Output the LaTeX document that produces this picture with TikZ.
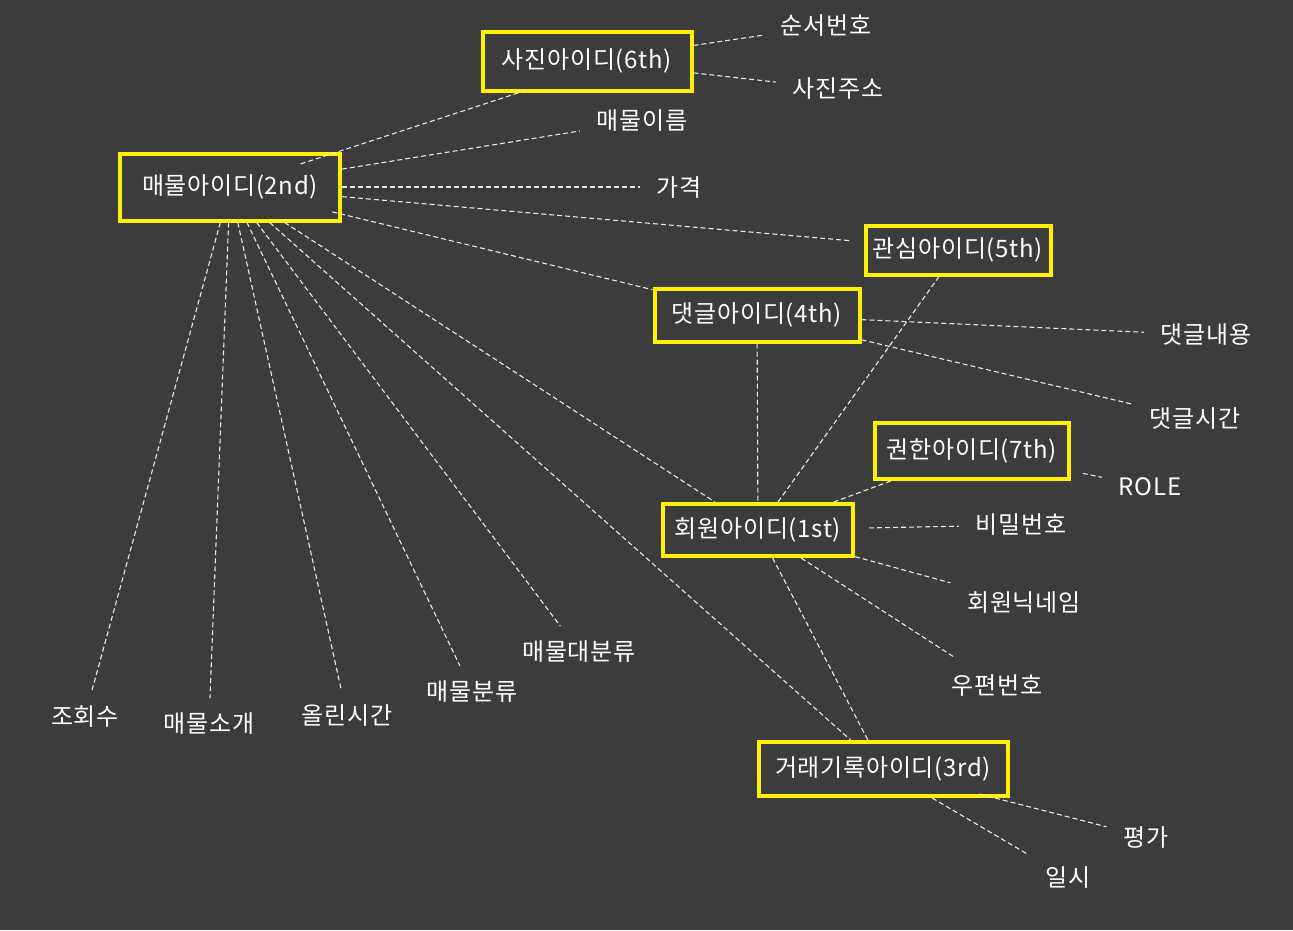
\documentclass[tikz,border=0pt]{standalone}
\usepackage{fontspec}
\setmainfont[LetterSpace=3]{Noto Sans CJK KR}
\definecolor{bgdark}{HTML}{3C3C3C}
\definecolor{boxyellow}{HTML}{FFF200}
\definecolor{linegray}{HTML}{E8E8E8}
\tikzset{
  entity/.style={draw=boxyellow,line width=4pt,text=white,inner sep=1pt},
  attr/.style={text=white,inner sep=0pt,outer sep=17pt},
  link/.style={draw=linegray,line width=1.1pt,dash pattern=on 5pt off 3pt}
}
\begin{document}
\begin{tikzpicture}[x=1pt,y=-1pt,font=\fontsize{24}{28}\selectfont]

\fill[bgdark]
(0,0)
rectangle
(1293,930);
\useasboundingbox
(0,0)
rectangle
(1293,930);

% entities
\node[entity,minimum width=209pt,minimum height=59pt]
(U6)
at (587,61)
{사진아이디(6th)};

\node[entity,minimum width=220pt,minimum height=67pt]
(U2)
at (230,187)
{매물아이디(2nd)};

\node[entity,minimum width=185pt,minimum height=49pt]
(U5)
at (958,250)
{관심아이디(5th)};

\node[entity,minimum width=205pt,minimum height=53pt]
(U4)
at (757,315)
{댓글아이디(4th)};

\node[entity,minimum width=194pt,minimum height=56pt]
(U7)
at (972,451)
{권한아이디(7th)};

\node[entity,minimum width=190pt,minimum height=52pt]
(U1)
at (758,530)
{회원아이디(1st)};

\node[entity,minimum width=249pt,minimum height=54pt]
(U3)
at (883,769)
{거래기록아이디(3rd)};

% attributes
\node[attr]
(sunseo)
at (826,26)
{순서번호};

\node[attr]
(sajin)
at (838,89)
{사진주소};

\node[attr]
(ireum)
at (642,121)
{매물이름};

\node[attr]
(gagyeok)
at (679,187)
{가격};

\node[attr]
(naeyong)
at (1206,335)
{댓글내용};

\node[attr]
(sigan)
at (1195,419)
{댓글시간};

\node[attr]
(role)
at (1150,487)
{ROLE};

\node[attr]
(bimil)
at (1021,525)
{비밀번호};

\node[attr]
(nick)
at (1024,603)
{회원닉네임};

\node[attr]
(upyeon)
at (997,685)
{우편번호};

\node[attr]
(pyeong)
at (1146,837)
{평가};

\node[attr]
(ilsi)
at (1068,878)
{일시};

\node[attr,outer sep=14pt]
(johoe)
at (85,716)
{조회수};

\node[attr,outer sep=14pt]
(sogae)
at (209,723)
{매물소개};

\node[attr,outer sep=14pt]
(ollin)
at (347,716)
{올린시간};

\node[attr,outer sep=14pt]
(bunryu)
at (472,691)
{매물분류};

\node[attr,outer sep=14pt]
(daebun)
at (579,651)
{매물대분류};

% links
\draw[link,shorten <=-40pt,shorten >=-6pt]
(U2)
--
(U6.-155);

\draw[link]
(U6)
--
(sunseo);

\draw[link]
(U6)
--
(sajin);

\draw[link]
(U2)
--
(ireum);

\draw[link]
(U2)
--
(gagyeok);

\draw[link,shorten >=12pt]
(U2)
--
(U5);

\draw[link,shorten <=-10pt]
(U2)
--
(U4);

\draw[link]
(U2)
--
(U1);

\draw[link]
(U2)
--
(U3);

\foreach \a in {johoe,sogae,ollin,bunryu,daebun}
  \draw[link]
  (U2)
  --
  (\a);

\draw[link]
(U5)
--
(U1);

\draw[link]
(U4)
--
(U1);

\draw[link]
(U4)
--
(naeyong);

\draw[link]
(U4)
--
(sigan);

\draw[link]
(U7)
--
(U1);

\draw[link,shorten <=12pt]
(U7)
--
(role);

\draw[link,shorten <=14pt]
(U1)
--
(bimil);

\draw[link]
(U1)
--
(nick);

\draw[link]
(U1)
--
(upyeon);

\draw[link]
(U1)
--
(U3);

\draw[link,shorten <=-16pt]
(U3)
--
(pyeong);

\draw[link]
(U3)
--
(ilsi);

\end{tikzpicture}
\end{document}
